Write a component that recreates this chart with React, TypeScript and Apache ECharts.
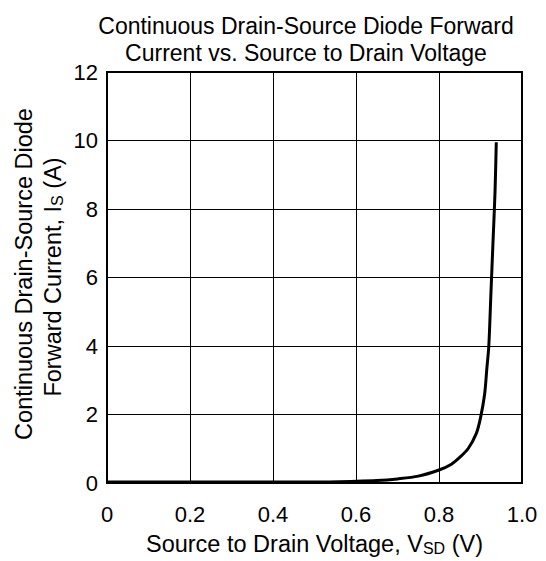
import React, { useEffect, useRef } from "react";
import * as echarts from "echarts";

const titleLines = ["Continuous Drain-Source Diode Forward", "Current vs. Source to Drain Voltage"];
const xTicks = [0, 0.2, 0.4, 0.6, 0.8, 1.0];
const yTicks = [0, 2, 4, 6, 8, 10, 12];
const vsd = [0, 0.1, 0.2, 0.3, 0.4, 0.5, 0.6, 0.65, 0.7, 0.75, 0.8, 0.83, 0.85, 0.87, 0.89, 0.9, 0.91, 0.915, 0.92, 0.925, 0.93, 0.935, 0.938];
const isd = [0.03, 0.03, 0.03, 0.03, 0.03, 0.03, 0.05, 0.07, 0.12, 0.2, 0.38, 0.55, 0.75, 1.0, 1.45, 1.9, 2.6, 3.3, 4.0, 5.5, 7.0, 8.5, 9.95];

const FONT = "'Liberation Sans', Arial, sans-serif";

export default function App() {
  const ref = useRef<HTMLDivElement>(null);
  useEffect(() => {
    if (!ref.current) return;
    const chart = echarts.init(ref.current, undefined, { renderer: "svg" });
    const data = vsd.map((v, i) => [v, isd[i]]);
    chart.setOption({
      animation: false,
      backgroundColor: "#fff",
      title: {
        text: titleLines.join("\n"),
        left: 301,
        top: 7,
        textAlign: "center",
        textStyle: { fontFamily: FONT, fontSize: 23, fontWeight: "normal", color: "#000", lineHeight: 27 },
      },
      grid: { left: 107, right: 24, top: 72, bottom: 76, show: true, borderColor: "#000", borderWidth: 2, containLabel: false },
      xAxis: {
        type: "value",
        min: xTicks[0],
        max: xTicks[xTicks.length - 1],
        interval: 0.2,
        axisLine: { show: false },
        axisTick: { show: false },
        splitLine: { show: true, lineStyle: { color: "#000", width: 1 } },
        axisLabel: {
          margin: 20,
          fontFamily: FONT,
          fontSize: 22,
          color: "#000",
          formatter: (v: number) => (v === 0 ? "0" : v.toFixed(1)),
        },
        name: "Source to Drain Voltage, V{sub|SD} (V)",
        nameLocation: "middle",
        nameGap: 48,
        nameTextStyle: {
          fontFamily: FONT,
          fontSize: 23.5,
          color: "#000",
          rich: { sub: { fontFamily: FONT, fontSize: 16, color: "#000", verticalAlign: "bottom", padding: [9, 0, 0, 0] } },
        },
      },
      yAxis: {
        type: "value",
        min: yTicks[0],
        max: yTicks[yTicks.length - 1],
        interval: 2,
        axisLine: { show: false },
        axisTick: { show: false },
        splitLine: { show: true, lineStyle: { color: "#000", width: 1 } },
        axisLabel: { margin: 9, fontFamily: FONT, fontSize: 22, color: "#000" },
      },
      graphic: [
        {
          type: "text",
          x: 24,
          y: 274,
          rotation: Math.PI / 2,
          style: {
            text: "Continuous Drain-Source Diode",
            fontFamily: FONT,
            fontSize: 23.5,
            fill: "#000",
            align: "center",
            verticalAlign: "middle",
          },
        },
        {
          type: "text",
          x: 53,
          y: 277,
          rotation: Math.PI / 2,
          style: {
            text: "Forward Current, I{sub|S} (A)",
            fontFamily: FONT,
            fontSize: 23.5,
            fill: "#000",
            align: "center",
            verticalAlign: "middle",
            rich: { sub: { fontFamily: FONT, fontSize: 16, fill: "#000", verticalAlign: "bottom", padding: [9, 0, 0, 0] } },
          },
        },
      ],
      series: [
        {
          type: "line",
          data,
          showSymbol: false,
          smooth: 0.3,
          lineStyle: { color: "#000", width: 3 },
        },
      ],
    });
    return () => chart.dispose();
  }, []);
  return <div ref={ref} style={{ position: "fixed", left: 0, top: 0, width: 546, height: 561 }} />;
}
